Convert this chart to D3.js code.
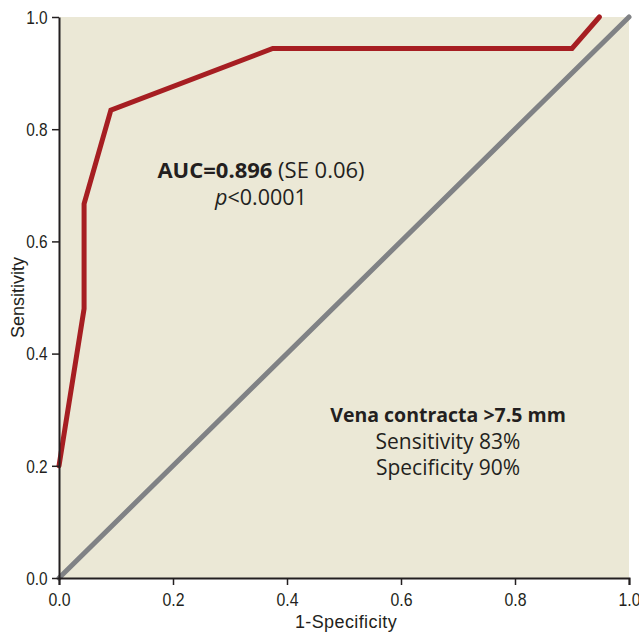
<!DOCTYPE html>
<html>
<head>
<meta charset="utf-8">
<title>ROC curve</title>
<style>
  body { margin: 0; background: #fff; }
  text { font-family: "Liberation Sans Narrow", "Liberation Sans", sans-serif; fill: #231f20; }
  .note { font-family: "Open Sans", "Liberation Sans", sans-serif; }
</style>
</head>
<body>
<svg width="639" height="633"></svg>
<script src="https://d3js.org/d3.v7.min.js"></script>
<script>

    // ROC curve points (1-specificity, sensitivity)
    var rocX = [0, 0.044, 0.044, 0.091, 0.375, 0.9, 0.948];
    var rocY = [0.2, 0.48, 0.667, 0.834, 0.944, 0.944, 1.0];
    var refX = [0, 1];
    var refY = [0, 1];
    var ticks = [0, 0.2, 0.4, 0.6, 0.8, 1.0];

    var svg = d3.select("svg"),
        margin = { top: 17, right: 10, bottom: 55, left: 59 },
        width = +svg.attr("width") - margin.left - margin.right,
        height = +svg.attr("height") - margin.top - margin.bottom,
        g = svg.append("g").attr("transform", "translate(" + margin.left + "," + margin.top + ")");

    var x = d3.scaleLinear().domain([0, 1]).range([0, width]);
    var y = d3.scaleLinear().domain([0, 1]).range([height, 0]);

    g.append("rect")
        .attr("width", width)
        .attr("height", height)
        .attr("fill", "#ebe8d6");

    var line = d3.line()
        .x(function (d) { return x(d[0]); })
        .y(function (d) { return y(d[1]); });

    g.append("path")
        .datum(d3.zip(refX, refY))
        .attr("fill", "none")
        .attr("stroke", "#808285")
        .attr("stroke-width", 5)
        .attr("stroke-linecap", "round")
        .attr("d", line);

    g.append("path")
        .datum(d3.zip(rocX, rocY))
        .attr("fill", "none")
        .attr("stroke", "#a61e22")
        .attr("stroke-width", 5)
        .attr("stroke-linecap", "round")
        .attr("stroke-linejoin", "miter")
        .attr("d", line);

    var xAxis = g.append("g")
        .attr("transform", "translate(0," + height + ")")
        .call(d3.axisBottom(x).tickValues(ticks).tickFormat(d3.format(".1f")).tickSize(7).tickSizeOuter(7).tickPadding(8));

    var yAxis = g.append("g")
        .call(d3.axisLeft(y).tickValues(ticks).tickFormat(d3.format(".1f")).tickSize(7).tickSizeOuter(0).tickPadding(4));

    [xAxis, yAxis].forEach(function (a) {
        a.select(".domain").attr("stroke", "#231f20").attr("stroke-width", 2);
        a.selectAll(".tick line").attr("stroke", "#231f20").attr("stroke-width", 1.5);
        a.selectAll(".tick text").attr("fill", "#231f20");
    });
    // narrow the tick numerals like the condensed face of the original
    xAxis.selectAll(".tick text").style("font-size", "18px").attr("transform", "scale(0.88,1)");
    yAxis.selectAll(".tick text").style("font-size", "17.5px").attr("dy", "0.36em").attr("x", -13).attr("transform", "scale(0.88,1)");

    svg.append("text")
        .attr("x", margin.left + width / 2 + 2)
        .attr("y", 628)
        .attr("text-anchor", "middle")
        .style("font-size", "18px")
        .style("letter-spacing", "0.4px")
        .text("1-Specificity");

    svg.append("text")
        .attr("transform", "translate(24," + (margin.top + height / 2) + ") rotate(-90)")
        .attr("text-anchor", "middle")
        .style("font-size", "18px")
        .text("Sensitivity");

    // annotations
    var a1 = g.append("text").attr("class", "note")
        .attr("x", 202).attr("y", 161)
        .attr("text-anchor", "middle")
        .style("font-size", "22px");
    a1.append("tspan").attr("font-weight", "bold").text("AUC=0.896");
    a1.append("tspan").text(" (SE 0.06)");

    var a2 = g.append("text").attr("class", "note")
        .attr("x", 202).attr("y", 188)
        .attr("text-anchor", "middle")
        .style("font-size", "21.5px");
    a2.append("tspan").attr("font-style", "italic").text("p");
    a2.append("tspan").text("<0.0001");

    var notes = ["Vena contracta >7.5 mm", "Sensitivity 83%", "Specificity 90%"];
    g.selectAll(".vc").data(notes).enter().append("text")
        .attr("class", "note")
        .attr("x", 389)
        .attr("y", function (d, i) { return 405 + i * 26.5; })
        .attr("text-anchor", "middle")
        .attr("font-weight", function (d, i) { return i === 0 ? "bold" : "normal"; })
        .style("font-size", function (d, i) { return i === 0 ? "19.5px" : "21px"; })
        .text(function (d) { return d; });

</script>
</body>
</html>
